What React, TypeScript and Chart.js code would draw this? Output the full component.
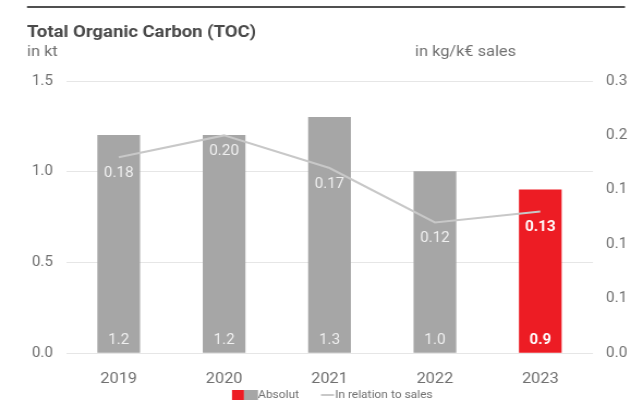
import React, { useEffect, useRef } from "react";
import { Chart, registerables } from "chart.js";

Chart.register(...registerables);

const years = ["2019", "2020", "2021", "2022", "2023"];
const absoluteKt = [1.2, 1.2, 1.3, 1.0, 0.9];
const relativeKgPerKEur = [0.18, 0.2, 0.17, 0.12, 0.13];
const leftTicks = [0, 0.5, 1.0, 1.5];
const rightMax = 0.25;
const rightStep = 0.05;

const OUT_W = 643;
const OUT_H = 405;
const STRETCH = 1.09;
const W = Math.round(OUT_W / STRETCH);
const K = OUT_W / W;
const X = (v: number) => v / K;

const FONT = "Roboto, 'Liberation Sans', sans-serif";
const GRAY_BAR = "#a6a6a6";
const RED = "#ed1c24";
const LINE = "#c8c8c8";
const TEXT = "#707070";

const overlayPlugin = {
  id: "overlay",
  afterDatasetsDraw(chart: any) {
    const ctx = chart.ctx;
    const bars = chart.getDatasetMeta(0);
    const line = chart.getDatasetMeta(1);
    ctx.save();
    ctx.textAlign = "center";
    ctx.textBaseline = "middle";
    const last = years.length - 1;
    bars.data.forEach((el: any, i: number) => {
      ctx.fillStyle = i === last ? "#ffffff" : "#f0f0f0";
      ctx.font = (i === last ? "bold " : "") + "14px " + FONT;
      ctx.fillText(absoluteKt[i].toFixed(1), el.x, el.base - 12);
    });
    line.data.forEach((el: any, i: number) => {
      ctx.fillStyle = i === last ? "#ffffff" : "#f0f0f0";
      ctx.font = (i === last ? "bold " : "") + "14px " + FONT;
      ctx.fillText(relativeKgPerKEur[i].toFixed(2), el.x, el.y + 16);
    });
    ctx.restore();
  },
  afterDraw(chart: any) {
    const ctx = chart.ctx;
    ctx.save();
    ctx.strokeStyle = "#505050";
    ctx.lineWidth = 2;
    ctx.beginPath();
    ctx.moveTo(X(27), 7);
    ctx.lineTo(X(625), 7);
    ctx.stroke();
    ctx.textBaseline = "middle";
    ctx.textAlign = "left";
    ctx.fillStyle = "#4a4a4a";
    ctx.font = "bold 17px " + FONT;
    ctx.fillText("Total Organic Carbon (TOC)", X(27), 33);
    ctx.fillStyle = TEXT;
    ctx.font = "15px " + FONT;
    ctx.fillText("in kt", X(27), 52);
    ctx.fillText("in kg/k\u20ac sales", X(415), 52);
    const ly = 395;
    ctx.fillStyle = RED;
    ctx.fillRect(X(232), ly - 5, X(12), 10);
    ctx.fillStyle = GRAY_BAR;
    ctx.fillRect(X(244), ly - 5, X(14), 10);
    ctx.fillStyle = TEXT;
    ctx.font = "11px " + FONT;
    ctx.fillText("Absolut", X(258), ly);
    ctx.strokeStyle = LINE;
    ctx.lineWidth = 2;
    ctx.beginPath();
    ctx.moveTo(X(321), ly);
    ctx.lineTo(X(334), ly);
    ctx.stroke();
    ctx.fillText("In relation to sales", X(335), ly);
    ctx.restore();
  },
};

export default function App() {
  const ref = useRef<HTMLCanvasElement>(null);
  useEffect(() => {
    document.body.style.margin = "0";
    if (!ref.current) return;
    const chart = new Chart(ref.current, {
      type: "bar",
      data: {
        labels: years,
        datasets: [
          {
            type: "bar",
            label: "Absolut",
            data: absoluteKt,
            backgroundColor: years.map((_, i) => (i === years.length - 1 ? RED : GRAY_BAR)),
            barThickness: X(42),
            yAxisID: "y",
            order: 2,
          },
          {
            type: "line",
            label: "In relation to sales",
            data: relativeKgPerKEur,
            borderColor: LINE,
            borderWidth: 2,
            pointRadius: 0,
            tension: 0,
            yAxisID: "y1",
            order: 1,
          } as any,
        ],
      },
      options: {
        animation: false,
        responsive: false,
        maintainAspectRatio: false,
        layout: { padding: { top: 81, left: 0, right: 0, bottom: 0 } },
        plugins: { legend: { display: false }, tooltip: { enabled: false } },
        scales: {
          x: {
            grid: { display: false },
            border: { display: false },
            ticks: { color: TEXT, font: { family: FONT, size: 15 }, padding: 9 },
            afterFit: (s: any) => {
              s.height = 52;
            },
          },
          y: {
            position: "left",
            min: 0,
            max: 1.5,
            afterBuildTicks: (s: any) => {
              s.ticks = leftTicks.map((v) => ({ value: v }));
            },
            ticks: {
              color: TEXT,
              font: { family: FONT, size: 14 },
              padding: 12,
              callback: (v: any) => Number(v).toFixed(1),
            },
            grid: { color: "#e6e6e6", drawTicks: false, lineWidth: 1 },
            border: { display: false },
            afterFit: (s: any) => {
              s.width = X(66);
            },
          },
          y1: {
            position: "right",
            min: 0,
            max: rightMax,
            ticks: {
              stepSize: rightStep,
              color: TEXT,
              font: { family: FONT, size: 14 },
              padding: 12,
              callback: (v: any) => Number(v).toFixed(1),
            },
            grid: { display: false, drawTicks: false },
            border: { display: false },
            afterFit: (s: any) => {
              s.width = W - X(593);
            },
          },
        },
      },
      plugins: [overlayPlugin],
    });
    return () => chart.destroy();
  }, []);
  return (
    <div style={{ position: "absolute", left: 0, top: 0, width: OUT_W, height: OUT_H, background: "#fff" }}>
      <canvas ref={ref} width={W} height={OUT_H} style={{ width: OUT_W, height: OUT_H, display: "block" }} />
    </div>
  );
}
